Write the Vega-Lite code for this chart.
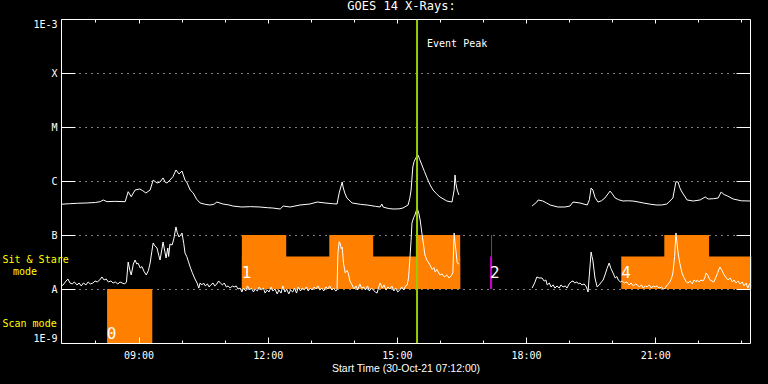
{
"$schema": "https://vega.github.io/schema/vega-lite/v6.json",
"width": 689, "height": 324,
"autosize": {"type": "none"},
"padding": {"left": 61, "top": 19, "right": 18, "bottom": 41},
"background": "black",
"title": {"text": "GOES 14 X-Rays:", "color": "white", "font": "DejaVu Sans Mono", "fontSize": 12, "fontWeight": "normal", "anchor": "middle", "frame": "group", "offset": 5, "dx": -4},
"config": {
 "view": {"stroke": null},
 "axis": {"labelColor": "white", "tickColor": "white", "domainColor": "white", "labelFont": "DejaVu Sans Mono", "labelFontSize": 10, "titleColor": "white", "labelOverlap": false, "tickWidth": 1, "domainWidth": 1, "gridColor": "white", "gridOpacity": 1, "gridDash": [1, 5], "grid": false, "labelFlush": false}
},
"datasets": {
 "blocks": [
  {"t0": 8.27, "t1": 9.32, "lo": 1e-9, "hi": 1e-8},
  {"t0": 11.40, "t1": 16.47, "lo": 1e-8, "hi": 4e-8},
  {"t0": 11.40, "t1": 12.43, "lo": 1e-8, "hi": 1e-7},
  {"t0": 13.43, "t1": 14.45, "lo": 1e-8, "hi": 1e-7},
  {"t0": 15.44, "t1": 16.47, "lo": 1e-8, "hi": 1e-7},
  {"t0": 20.21, "t1": 23.23, "lo": 1e-8, "hi": 4e-8},
  {"t0": 21.21, "t1": 22.25, "lo": 1e-8, "hi": 1e-7}
 ],
 "magenta": [{"t0": 17.163, "t1": 17.21, "tl": 17.198, "lo": 1e-8, "hi": 4e-8, "top": 1e-7}],
 "digits": [
  {"t": 8.26, "v": 1.19e-9, "label": "0"},
  {"t": 11.40, "v": 1.63e-8, "label": "1"},
  {"t": 17.16, "v": 1.63e-8, "label": "2"},
  {"t": 20.21, "v": 1.63e-8, "label": "4"}
 ],
 "event": [{"t": 15.468, "tl": 15.70, "v": 3.07e-4, "label": "Event Peak"}],
 "flux": [
  {"t":7.20,"v":3.71e-7,"s":"L1"},{"t":7.40,"v":3.80e-7,"s":"L1"},{"t":7.59,"v":3.87e-7,"s":"L1"},{"t":7.80,"v":3.92e-7,"s":"L1"},{"t":8.00,"v":4.0e-7,"s":"L1"},{"t":8.11,"v":4.14e-7,"s":"L1"},{"t":8.18,"v":4.45e-7,"s":"L1"},{"t":8.27,"v":4.14e-7,"s":"L1"},{"t":8.45,"v":4.2e-7,"s":"L1"},{"t":8.69,"v":4.14e-7,"s":"L1"},{"t":8.76,"v":6.34e-7,"s":"L1"},{"t":8.83,"v":5.12e-7,"s":"L1"},{"t":8.92,"v":6.81e-7,"s":"L1"},{"t":9.03,"v":7.11e-7,"s":"L1"},{"t":9.10,"v":6.6e-7,"s":"L1"},{"t":9.17,"v":6.0e-7,"s":"L1"},{"t":9.27,"v":6.81e-7,"s":"L1"},{"t":9.34,"v":1.04e-6,"s":"L1"},{"t":9.43,"v":9.18e-7,"s":"L1"},{"t":9.50,"v":9.58e-7,"s":"L1"},{"t":9.57,"v":1.14e-6,"s":"L1"},{"t":9.62,"v":9.5e-7,"s":"L1"},{"t":9.66,"v":9.18e-7,"s":"L1"},{"t":9.73,"v":1.04e-6,"s":"L1"},{"t":9.80,"v":1.2e-6,"s":"L1"},{"t":9.87,"v":1.60e-6,"s":"L1"},{"t":9.94,"v":1.35e-6,"s":"L1"},{"t":10.01,"v":1.53e-6,"s":"L1"},{"t":10.08,"v":1.04e-6,"s":"L1"},{"t":10.13,"v":9.18e-7,"s":"L1"},{"t":10.20,"v":6.81e-7,"s":"L1"},{"t":10.27,"v":6.0e-7,"s":"L1"},{"t":10.35,"v":4.6e-7,"s":"L1"},{"t":10.43,"v":3.92e-7,"s":"L1"},{"t":10.55,"v":3.7e-7,"s":"L1"},{"t":10.66,"v":3.59e-7,"s":"L1"},{"t":10.75,"v":3.7e-7,"s":"L1"},{"t":10.82,"v":4.08e-7,"s":"L1"},{"t":10.96,"v":3.75e-7,"s":"L1"},{"t":11.10,"v":3.6e-7,"s":"L1"},{"t":11.19,"v":3.44e-7,"s":"L1"},{"t":11.40,"v":3.30e-7,"s":"L1"},{"t":11.60,"v":3.35e-7,"s":"L1"},{"t":11.82,"v":3.30e-7,"s":"L1"},{"t":12.00,"v":3.2e-7,"s":"L1"},{"t":12.12,"v":3.16e-7,"s":"L1"},{"t":12.29,"v":3.03e-7,"s":"L1"},{"t":12.36,"v":3.44e-7,"s":"L1"},{"t":12.52,"v":3.30e-7,"s":"L1"},{"t":12.75,"v":3.59e-7,"s":"L1"},{"t":12.98,"v":3.75e-7,"s":"L1"},{"t":13.15,"v":4.08e-7,"s":"L1"},{"t":13.33,"v":3.92e-7,"s":"L1"},{"t":13.50,"v":3.8e-7,"s":"L1"},{"t":13.61,"v":3.75e-7,"s":"L1"},{"t":13.66,"v":6.0e-7,"s":"L1"},{"t":13.73,"v":9.58e-7,"s":"L1"},{"t":13.75,"v":7.74e-7,"s":"L1"},{"t":13.79,"v":6.0e-7,"s":"L1"},{"t":13.84,"v":4.84e-7,"s":"L1"},{"t":13.96,"v":3.92e-7,"s":"L1"},{"t":14.15,"v":3.7e-7,"s":"L1"},{"t":14.31,"v":3.59e-7,"s":"L1"},{"t":14.50,"v":3.4e-7,"s":"L1"},{"t":14.61,"v":3.30e-7,"s":"L1"},{"t":14.65,"v":3.75e-7,"s":"L1"},{"t":14.68,"v":3.30e-7,"s":"L1"},{"t":14.80,"v":3.1e-7,"s":"L1"},{"t":14.91,"v":3.03e-7,"s":"L1"},{"t":15.05,"v":3.05e-7,"s":"L1"},{"t":15.14,"v":3.16e-7,"s":"L1"},{"t":15.26,"v":3.59e-7,"s":"L1"},{"t":15.30,"v":4.8e-7,"s":"L1"},{"t":15.33,"v":6.81e-7,"s":"L1"},{"t":15.37,"v":1.82e-6,"s":"L1"},{"t":15.40,"v":2.3e-6,"s":"L1"},{"t":15.44,"v":2.67e-6,"s":"L1"},{"t":15.49,"v":3.03e-6,"s":"L1"},{"t":15.53,"v":2.5e-6,"s":"L1"},{"t":15.58,"v":1.98e-6,"s":"L1"},{"t":15.64,"v":1.5e-6,"s":"L1"},{"t":15.70,"v":1.14e-6,"s":"L1"},{"t":15.77,"v":8.5e-7,"s":"L1"},{"t":15.84,"v":6.81e-7,"s":"L1"},{"t":15.92,"v":5.8e-7,"s":"L1"},{"t":16.00,"v":5.06e-7,"s":"L1"},{"t":16.16,"v":4.26e-7,"s":"L1"},{"t":16.28,"v":4.08e-7,"s":"L1"},{"t":16.33,"v":6.81e-7,"s":"L1"},{"t":16.35,"v":1.29e-6,"s":"L1"},{"t":16.37,"v":9.0e-7,"s":"L1"},{"t":16.40,"v":6.81e-7,"s":"L1"},{"t":16.44,"v":5.51e-7,"s":"L1"},
  {"t":18.14,"v":3.44e-7,"s":"L2"},{"t":18.25,"v":4.08e-7,"s":"L2"},{"t":18.28,"v":4.45e-7,"s":"L2"},{"t":18.39,"v":4.26e-7,"s":"L2"},{"t":18.48,"v":3.9e-7,"s":"L2"},{"t":18.56,"v":3.59e-7,"s":"L2"},{"t":18.74,"v":3.30e-7,"s":"L2"},{"t":18.90,"v":3.3e-7,"s":"L2"},{"t":19.02,"v":3.44e-7,"s":"L2"},{"t":19.09,"v":4.08e-7,"s":"L2"},{"t":19.25,"v":3.92e-7,"s":"L2"},{"t":19.42,"v":3.59e-7,"s":"L2"},{"t":19.47,"v":4.5e-7,"s":"L2"},{"t":19.51,"v":7.41e-7,"s":"L2"},{"t":19.55,"v":6.81e-7,"s":"L2"},{"t":19.60,"v":5.0e-7,"s":"L2"},{"t":19.67,"v":4.08e-7,"s":"L2"},{"t":19.75,"v":4.3e-7,"s":"L2"},{"t":19.83,"v":4.84e-7,"s":"L2"},{"t":19.95,"v":6.5e-7,"s":"L2"},{"t":20.00,"v":5.8e-7,"s":"L2"},{"t":20.07,"v":4.84e-7,"s":"L2"},{"t":20.15,"v":4.5e-7,"s":"L2"},{"t":20.25,"v":4.26e-7,"s":"L2"},{"t":20.35,"v":4.3e-7,"s":"L2"},{"t":20.48,"v":4.26e-7,"s":"L2"},{"t":20.60,"v":4.1e-7,"s":"L2"},{"t":20.72,"v":3.92e-7,"s":"L2"},{"t":20.90,"v":3.7e-7,"s":"L2"},{"t":21.04,"v":3.59e-7,"s":"L2"},{"t":21.15,"v":3.6e-7,"s":"L2"},{"t":21.27,"v":3.75e-7,"s":"L2"},{"t":21.41,"v":4.84e-7,"s":"L2"},{"t":21.46,"v":8.0e-7,"s":"L2"},{"t":21.48,"v":9.7e-7,"s":"L2"},{"t":21.53,"v":9.58e-7,"s":"L2"},{"t":21.57,"v":7.5e-7,"s":"L2"},{"t":21.62,"v":6.25e-7,"s":"L2"},{"t":21.74,"v":4.45e-7,"s":"L2"},{"t":21.88,"v":4.26e-7,"s":"L2"},{"t":22.04,"v":4.45e-7,"s":"L2"},{"t":22.16,"v":5.06e-7,"s":"L2"},{"t":22.23,"v":4.64e-7,"s":"L2"},{"t":22.35,"v":4.7e-7,"s":"L2"},{"t":22.46,"v":4.84e-7,"s":"L2"},{"t":22.53,"v":6.25e-7,"s":"L2"},{"t":22.60,"v":5.6e-7,"s":"L2"},{"t":22.67,"v":5.3e-7,"s":"L2"},{"t":22.81,"v":4.64e-7,"s":"L2"},{"t":23.00,"v":4.3e-7,"s":"L2"},{"t":23.20,"v":4.26e-7,"s":"L2"},
  {"t":7.20,"v":1.14e-8,"s":"S1"},{"t":7.25,"v":1.19e-8,"s":"S1"},{"t":7.30,"v":1.35e-8,"s":"S1"},{"t":7.36,"v":1.53e-8,"s":"S1"},{"t":7.41,"v":1.29e-8,"s":"S1"},{"t":7.46,"v":1.24e-8,"s":"S1"},{"t":7.51,"v":1.35e-8,"s":"S1"},{"t":7.57,"v":1.19e-8,"s":"S1"},{"t":7.62,"v":1.29e-8,"s":"S1"},{"t":7.67,"v":1.14e-8,"s":"S1"},{"t":7.72,"v":1.29e-8,"s":"S1"},{"t":7.78,"v":1.19e-8,"s":"S1"},{"t":7.83,"v":1.35e-8,"s":"S1"},{"t":7.88,"v":1.24e-8,"s":"S1"},{"t":7.94,"v":1.29e-8,"s":"S1"},{"t":7.99,"v":1.41e-8,"s":"S1"},{"t":8.04,"v":1.35e-8,"s":"S1"},{"t":8.10,"v":1.47e-8,"s":"S1"},{"t":8.15,"v":1.67e-8,"s":"S1"},{"t":8.20,"v":1.47e-8,"s":"S1"},{"t":8.25,"v":1.53e-8,"s":"S1"},{"t":8.30,"v":1.35e-8,"s":"S1"},{"t":8.36,"v":1.41e-8,"s":"S1"},{"t":8.41,"v":1.29e-8,"s":"S1"},{"t":8.46,"v":1.35e-8,"s":"S1"},{"t":8.52,"v":1.24e-8,"s":"S1"},{"t":8.57,"v":1.35e-8,"s":"S1"},{"t":8.62,"v":1.29e-8,"s":"S1"},{"t":8.68,"v":1.24e-8,"s":"S1"},{"t":8.72,"v":1.35e-8,"s":"S1"},{"t":8.76,"v":3.16e-8,"s":"S1"},{"t":8.80,"v":2.2e-8,"s":"S1"},{"t":8.83,"v":1.82e-8,"s":"S1"},{"t":8.88,"v":2.9e-8,"s":"S1"},{"t":8.92,"v":3.44e-8,"s":"S1"},{"t":8.96,"v":2.9e-8,"s":"S1"},{"t":8.99,"v":3.0e-8,"s":"S1"},{"t":9.04,"v":2.45e-8,"s":"S1"},{"t":9.08,"v":2.6e-8,"s":"S1"},{"t":9.13,"v":2.1e-8,"s":"S1"},{"t":9.18,"v":1.82e-8,"s":"S1"},{"t":9.23,"v":2.2e-8,"s":"S1"},{"t":9.27,"v":3.03e-8,"s":"S1"},{"t":9.31,"v":5.0e-8,"s":"S1"},{"t":9.34,"v":7.11e-8,"s":"S1"},{"t":9.38,"v":6.3e-8,"s":"S1"},{"t":9.43,"v":5.75e-8,"s":"S1"},{"t":9.47,"v":4.2e-8,"s":"S1"},{"t":9.50,"v":3.44e-8,"s":"S1"},{"t":9.54,"v":5.3e-8,"s":"S1"},{"t":9.57,"v":7.41e-8,"s":"S1"},{"t":9.61,"v":5.0e-8,"s":"S1"},{"t":9.64,"v":3.75e-8,"s":"S1"},{"t":9.68,"v":5.75e-8,"s":"S1"},{"t":9.70,"v":4.0e-8,"s":"S1"},{"t":9.73,"v":6.8e-8,"s":"S1"},{"t":9.78,"v":6.53e-8,"s":"S1"},{"t":9.82,"v":8.5e-8,"s":"S1"},{"t":9.87,"v":1.41e-7,"s":"S1"},{"t":9.90,"v":1.1e-7,"s":"S1"},{"t":9.94,"v":9.18e-8,"s":"S1"},{"t":9.98,"v":1.0e-7,"s":"S1"},{"t":10.01,"v":1.09e-7,"s":"S1"},{"t":10.05,"v":7.0e-8,"s":"S1"},{"t":10.08,"v":4.64e-8,"s":"S1"},{"t":10.12,"v":4.0e-8,"s":"S1"},{"t":10.16,"v":3.2e-8,"s":"S1"},{"t":10.20,"v":2.55e-8,"s":"S1"},{"t":10.25,"v":2.0e-8,"s":"S1"},{"t":10.30,"v":1.6e-8,"s":"S1"},{"t":10.36,"v":1.29e-8,"s":"S1"},{"t":10.40,"v":1.04e-8,"s":"S1"},{"t":10.43,"v":1.29e-8,"s":"S1"},{"t":10.47,"v":1.19e-8,"s":"S1"},{"t":10.51,"v":1.29e-8,"s":"S1"},{"t":10.55,"v":1.14e-8,"s":"S1"},{"t":10.60,"v":1.24e-8,"s":"S1"},{"t":10.64,"v":1.09e-8,"s":"S1"},{"t":10.68,"v":1.19e-8,"s":"S1"},{"t":10.73,"v":1.29e-8,"s":"S1"},{"t":10.77,"v":1.14e-8,"s":"S1"},{"t":10.82,"v":1.24e-8,"s":"S1"},{"t":10.86,"v":1.41e-8,"s":"S1"},{"t":10.90,"v":1.29e-8,"s":"S1"},{"t":10.95,"v":1.19e-8,"s":"S1"},{"t":10.99,"v":1.29e-8,"s":"S1"},{"t":11.04,"v":1.09e-8,"s":"S1"},{"t":11.08,"v":1.14e-8,"s":"S1"},{"t":11.13,"v":1.04e-8,"s":"S1"},{"t":11.18,"v":1.14e-8,"s":"S1"},{"t":11.22,"v":1.09e-8,"s":"S1"},{"t":11.27,"v":1.14e-8,"s":"S1"},{"t":11.31,"v":1.0e-8,"s":"S1"},{"t":11.36,"v":1.04e-8,"s":"S1"},{"t":11.40,"v":8.8e-9,"s":"S1"},{"t":11.44,"v":1.04e-8,"s":"S1"},{"t":11.49,"v":9.2e-9,"s":"S1"},{"t":11.53,"v":1.14e-8,"s":"S1"},{"t":11.58,"v":9.6e-9,"s":"S1"},{"t":11.62,"v":1.04e-8,"s":"S1"},{"t":11.67,"v":8.8e-9,"s":"S1"},{"t":11.71,"v":1.0e-8,"s":"S1"},{"t":11.76,"v":9.2e-9,"s":"S1"},{"t":11.80,"v":1.09e-8,"s":"S1"},{"t":11.85,"v":9.6e-9,"s":"S1"},{"t":11.90,"v":1.04e-8,"s":"S1"},{"t":11.94,"v":8.4e-9,"s":"S1"},{"t":11.99,"v":9.6e-9,"s":"S1"},{"t":12.03,"v":8.8e-9,"s":"S1"},{"t":12.08,"v":1.09e-8,"s":"S1"},{"t":12.12,"v":9.2e-9,"s":"S1"},{"t":12.17,"v":1.0e-8,"s":"S1"},{"t":12.22,"v":8.1e-9,"s":"S1"},{"t":12.26,"v":9.6e-9,"s":"S1"},{"t":12.31,"v":8.4e-9,"s":"S1"},{"t":12.35,"v":1.14e-8,"s":"S1"},{"t":12.40,"v":8.8e-9,"s":"S1"},{"t":12.44,"v":1.0e-8,"s":"S1"},{"t":12.49,"v":8.1e-9,"s":"S1"},{"t":12.53,"v":9.6e-9,"s":"S1"},{"t":12.58,"v":8.8e-9,"s":"S1"},{"t":12.62,"v":1.04e-8,"s":"S1"},{"t":12.67,"v":8.4e-9,"s":"S1"},{"t":12.71,"v":1.09e-8,"s":"S1"},{"t":12.76,"v":9.2e-9,"s":"S1"},{"t":12.80,"v":1.04e-8,"s":"S1"},{"t":12.85,"v":9.6e-9,"s":"S1"},{"t":12.90,"v":1.09e-8,"s":"S1"},{"t":12.94,"v":9.2e-9,"s":"S1"},{"t":12.99,"v":1.04e-8,"s":"S1"},{"t":13.03,"v":9.6e-9,"s":"S1"},{"t":13.08,"v":1.09e-8,"s":"S1"},{"t":13.12,"v":1.0e-8,"s":"S1"},{"t":13.17,"v":1.14e-8,"s":"S1"},{"t":13.21,"v":9.6e-9,"s":"S1"},{"t":13.26,"v":1.04e-8,"s":"S1"},{"t":13.30,"v":9.2e-9,"s":"S1"},{"t":13.35,"v":1.09e-8,"s":"S1"},{"t":13.40,"v":1.0e-8,"s":"S1"},{"t":13.44,"v":1.14e-8,"s":"S1"},{"t":13.49,"v":9.6e-9,"s":"S1"},{"t":13.53,"v":1.04e-8,"s":"S1"},{"t":13.58,"v":9.2e-9,"s":"S1"},{"t":13.61,"v":9.6e-9,"s":"S1"},{"t":13.63,"v":4.64e-8,"s":"S1"},{"t":13.66,"v":7.5e-8,"s":"S1"},{"t":13.68,"v":7.11e-8,"s":"S1"},{"t":13.71,"v":5.5e-8,"s":"S1"},{"t":13.73,"v":6.0e-8,"s":"S1"},{"t":13.76,"v":3.0e-8,"s":"S1"},{"t":13.80,"v":1.98e-8,"s":"S1"},{"t":13.84,"v":2.2e-8,"s":"S1"},{"t":13.87,"v":1.98e-8,"s":"S1"},{"t":13.91,"v":1.4e-8,"s":"S1"},{"t":13.96,"v":1.19e-8,"s":"S1"},{"t":14.00,"v":1.0e-8,"s":"S1"},{"t":14.05,"v":1.14e-8,"s":"S1"},{"t":14.09,"v":9.6e-9,"s":"S1"},{"t":14.14,"v":1.24e-8,"s":"S1"},{"t":14.18,"v":1.04e-8,"s":"S1"},{"t":14.23,"v":1.09e-8,"s":"S1"},{"t":14.27,"v":9.6e-9,"s":"S1"},{"t":14.32,"v":1.14e-8,"s":"S1"},{"t":14.36,"v":9.2e-9,"s":"S1"},{"t":14.41,"v":1.04e-8,"s":"S1"},{"t":14.45,"v":9.6e-9,"s":"S1"},{"t":14.50,"v":8.8e-9,"s":"S1"},{"t":14.54,"v":8.4e-9,"s":"S1"},{"t":14.58,"v":1.09e-8,"s":"S1"},{"t":14.61,"v":1.29e-8,"s":"S1"},{"t":14.66,"v":1.04e-8,"s":"S1"},{"t":14.70,"v":1.19e-8,"s":"S1"},{"t":14.75,"v":9.6e-9,"s":"S1"},{"t":14.79,"v":1.09e-8,"s":"S1"},{"t":14.84,"v":1.0e-8,"s":"S1"},{"t":14.88,"v":1.14e-8,"s":"S1"},{"t":14.93,"v":9.2e-9,"s":"S1"},{"t":14.97,"v":1.04e-8,"s":"S1"},{"t":15.02,"v":8.8e-9,"s":"S1"},{"t":15.07,"v":9.6e-9,"s":"S1"},{"t":15.11,"v":1.09e-8,"s":"S1"},{"t":15.16,"v":9.6e-9,"s":"S1"},{"t":15.20,"v":1.14e-8,"s":"S1"},{"t":15.24,"v":1.19e-8,"s":"S1"},{"t":15.27,"v":1.6e-8,"s":"S1"},{"t":15.30,"v":3.44e-8,"s":"S1"},{"t":15.33,"v":8.0e-8,"s":"S1"},{"t":15.35,"v":1.67e-7,"s":"S1"},{"t":15.39,"v":2.1e-7,"s":"S1"},{"t":15.42,"v":2.35e-7,"s":"S1"},{"t":15.47,"v":3.16e-7,"s":"S1"},{"t":15.51,"v":2.5e-7,"s":"S1"},{"t":15.54,"v":1.90e-7,"s":"S1"},{"t":15.58,"v":1.09e-7,"s":"S1"},{"t":15.62,"v":6.5e-8,"s":"S1"},{"t":15.65,"v":4.26e-8,"s":"S1"},{"t":15.70,"v":3.4e-8,"s":"S1"},{"t":15.77,"v":2.78e-8,"s":"S1"},{"t":15.82,"v":2.3e-8,"s":"S1"},{"t":15.86,"v":2.5e-8,"s":"S1"},{"t":15.89,"v":2.06e-8,"s":"S1"},{"t":15.93,"v":2.3e-8,"s":"S1"},{"t":16.00,"v":1.82e-8,"s":"S1"},{"t":16.05,"v":1.9e-8,"s":"S1"},{"t":16.10,"v":1.67e-8,"s":"S1"},{"t":16.16,"v":1.82e-8,"s":"S1"},{"t":16.21,"v":1.6e-8,"s":"S1"},{"t":16.26,"v":1.74e-8,"s":"S1"},{"t":16.30,"v":2.0e-8,"s":"S1"},{"t":16.33,"v":1.09e-7,"s":"S1"},{"t":16.35,"v":7.0e-8,"s":"S1"},{"t":16.37,"v":5.28e-8,"s":"S1"},{"t":16.40,"v":3.03e-8,"s":"S1"},{"t":16.44,"v":2.90e-8,"s":"S1"},
  {"t":18.14,"v":1.04e-8,"s":"S2"},{"t":18.20,"v":1.3e-8,"s":"S2"},{"t":18.25,"v":1.67e-8,"s":"S2"},{"t":18.30,"v":1.6e-8,"s":"S2"},{"t":18.37,"v":1.60e-8,"s":"S2"},{"t":18.42,"v":1.4e-8,"s":"S2"},{"t":18.46,"v":1.47e-8,"s":"S2"},{"t":18.49,"v":1.19e-8,"s":"S2"},{"t":18.54,"v":1.29e-8,"s":"S2"},{"t":18.58,"v":1.09e-8,"s":"S2"},{"t":18.63,"v":1.19e-8,"s":"S2"},{"t":18.67,"v":1.04e-8,"s":"S2"},{"t":18.72,"v":1.14e-8,"s":"S2"},{"t":18.77,"v":1.04e-8,"s":"S2"},{"t":18.81,"v":1.19e-8,"s":"S2"},{"t":18.86,"v":1.09e-8,"s":"S2"},{"t":18.91,"v":1.14e-8,"s":"S2"},{"t":18.95,"v":1.04e-8,"s":"S2"},{"t":19.00,"v":1.24e-8,"s":"S2"},{"t":19.04,"v":1.35e-8,"s":"S2"},{"t":19.09,"v":1.41e-8,"s":"S2"},{"t":19.13,"v":1.29e-8,"s":"S2"},{"t":19.18,"v":1.35e-8,"s":"S2"},{"t":19.22,"v":1.24e-8,"s":"S2"},{"t":19.25,"v":1.29e-8,"s":"S2"},{"t":19.30,"v":1.19e-8,"s":"S2"},{"t":19.35,"v":1.24e-8,"s":"S2"},{"t":19.40,"v":1.09e-8,"s":"S2"},{"t":19.44,"v":8.8e-9,"s":"S2"},{"t":19.46,"v":1.47e-8,"s":"S2"},{"t":19.49,"v":3.0e-8,"s":"S2"},{"t":19.51,"v":4.84e-8,"s":"S2"},{"t":19.53,"v":4.0e-8,"s":"S2"},{"t":19.55,"v":3.44e-8,"s":"S2"},{"t":19.60,"v":1.6e-8,"s":"S2"},{"t":19.65,"v":1.09e-8,"s":"S2"},{"t":19.70,"v":1.19e-8,"s":"S2"},{"t":19.75,"v":1.35e-8,"s":"S2"},{"t":19.79,"v":1.47e-8,"s":"S2"},{"t":19.84,"v":1.9e-8,"s":"S2"},{"t":19.88,"v":2.4e-8,"s":"S2"},{"t":19.93,"v":3.03e-8,"s":"S2"},{"t":19.97,"v":2.4e-8,"s":"S2"},{"t":20.02,"v":1.98e-8,"s":"S2"},{"t":20.07,"v":1.6e-8,"s":"S2"},{"t":20.11,"v":1.7e-8,"s":"S2"},{"t":20.14,"v":1.47e-8,"s":"S2"},{"t":20.19,"v":1.35e-8,"s":"S2"},{"t":20.23,"v":1.41e-8,"s":"S2"},{"t":20.28,"v":1.29e-8,"s":"S2"},{"t":20.34,"v":1.35e-8,"s":"S2"},{"t":20.39,"v":1.19e-8,"s":"S2"},{"t":20.44,"v":1.29e-8,"s":"S2"},{"t":20.49,"v":1.14e-8,"s":"S2"},{"t":20.54,"v":1.24e-8,"s":"S2"},{"t":20.58,"v":1.19e-8,"s":"S2"},{"t":20.63,"v":1.09e-8,"s":"S2"},{"t":20.68,"v":1.19e-8,"s":"S2"},{"t":20.72,"v":1.04e-8,"s":"S2"},{"t":20.77,"v":1.14e-8,"s":"S2"},{"t":20.81,"v":1.09e-8,"s":"S2"},{"t":20.86,"v":1.19e-8,"s":"S2"},{"t":20.91,"v":1.04e-8,"s":"S2"},{"t":20.95,"v":1.14e-8,"s":"S2"},{"t":21.00,"v":1.09e-8,"s":"S2"},{"t":21.04,"v":1.14e-8,"s":"S2"},{"t":21.09,"v":1.04e-8,"s":"S2"},{"t":21.14,"v":1.09e-8,"s":"S2"},{"t":21.19,"v":1.0e-8,"s":"S2"},{"t":21.23,"v":1.04e-8,"s":"S2"},{"t":21.28,"v":1.19e-8,"s":"S2"},{"t":21.34,"v":1.35e-8,"s":"S2"},{"t":21.38,"v":1.6e-8,"s":"S2"},{"t":21.41,"v":1.98e-8,"s":"S2"},{"t":21.45,"v":4.0e-8,"s":"S2"},{"t":21.48,"v":1.09e-7,"s":"S2"},{"t":21.51,"v":6.5e-8,"s":"S2"},{"t":21.53,"v":4.64e-8,"s":"S2"},{"t":21.57,"v":3.0e-8,"s":"S2"},{"t":21.62,"v":1.98e-8,"s":"S2"},{"t":21.67,"v":1.6e-8,"s":"S2"},{"t":21.72,"v":1.35e-8,"s":"S2"},{"t":21.76,"v":1.29e-8,"s":"S2"},{"t":21.81,"v":1.4e-8,"s":"S2"},{"t":21.86,"v":1.24e-8,"s":"S2"},{"t":21.90,"v":1.47e-8,"s":"S2"},{"t":21.95,"v":1.35e-8,"s":"S2"},{"t":21.97,"v":1.47e-8,"s":"S2"},{"t":22.02,"v":1.35e-8,"s":"S2"},{"t":22.06,"v":1.47e-8,"s":"S2"},{"t":22.11,"v":1.41e-8,"s":"S2"},{"t":22.15,"v":1.6e-8,"s":"S2"},{"t":22.18,"v":1.98e-8,"s":"S2"},{"t":22.22,"v":1.8e-8,"s":"S2"},{"t":22.27,"v":1.47e-8,"s":"S2"},{"t":22.31,"v":1.41e-8,"s":"S2"},{"t":22.36,"v":1.35e-8,"s":"S2"},{"t":22.40,"v":1.6e-8,"s":"S2"},{"t":22.45,"v":2.0e-8,"s":"S2"},{"t":22.50,"v":2.55e-8,"s":"S2"},{"t":22.55,"v":2.2e-8,"s":"S2"},{"t":22.60,"v":1.82e-8,"s":"S2"},{"t":22.65,"v":1.6e-8,"s":"S2"},{"t":22.69,"v":1.47e-8,"s":"S2"},{"t":22.74,"v":1.6e-8,"s":"S2"},{"t":22.79,"v":1.35e-8,"s":"S2"},{"t":22.83,"v":1.47e-8,"s":"S2"},{"t":22.88,"v":1.29e-8,"s":"S2"},{"t":22.92,"v":1.41e-8,"s":"S2"},{"t":22.97,"v":1.24e-8,"s":"S2"},{"t":23.02,"v":1.35e-8,"s":"S2"},{"t":23.06,"v":1.14e-8,"s":"S2"},{"t":23.11,"v":1.29e-8,"s":"S2"},{"t":23.15,"v":1.04e-8,"s":"S2"},{"t":23.20,"v":1.29e-8,"s":"S2"}
 ]
},
"layer": [
 {
  "data": {"name": "blocks"},
  "mark": {"type": "rect", "color": "#ff8000"},
  "encoding": {
   "x": {"field": "t0", "type": "quantitative", "scale": {"domain": [7.2, 23.2], "nice": false, "zero": false},
    "axis": {"orient": "bottom", "values": [9, 12, 15, 18, 21], "tickSize": -6, "labelPadding": 13, "labelExpr": "(datum.value < 10 ? '0' : '') + datum.value + ':00'", "title": "Start Time (30-Oct-21 07:12:00)", "titleFont": "Liberation Sans", "titleFontSize": 10.5, "titleFontWeight": "normal", "titlePadding": 3, "domain": true, "zindex": 1}},
   "x2": {"field": "t1"},
   "y": {"field": "lo", "type": "quantitative", "scale": {"type": "log", "domain": [1e-9, 1e-3], "nice": false},
    "axis": {"orient": "left", "values": [1e-9, 1e-8, 1e-7, 1e-6, 1e-5, 1e-4, 1e-3], "tickSize": -14, "labelPadding": 18, "labelFlush": true, "labelExpr": "round(log(datum.value)/LN10) == -8 ? 'A' : round(log(datum.value)/LN10) == -7 ? 'B' : round(log(datum.value)/LN10) == -6 ? 'C' : round(log(datum.value)/LN10) == -5 ? 'M' : round(log(datum.value)/LN10) == -4 ? 'X' : round(log(datum.value)/LN10) == -3 ? '1E-3' : '1E-9'", "title": null, "domain": true, "zindex": 1}},
   "y2": {"field": "hi"}
  }
 },
 {
  "data": {"name": "magenta"},
  "mark": {"type": "rect", "color": "#cc00cc"},
  "encoding": {
   "x": {"field": "t0", "type": "quantitative", "scale": {"domain": [7.2, 23.2], "nice": false, "zero": false},
    "axis": {"orient": "bottom", "values": [8, 9, 10, 11, 12, 13, 14, 15, 16, 17, 18, 19, 20, 21, 22, 23], "tickSize": -3, "labels": false, "domain": false, "title": null, "zindex": 1}},
   "x2": {"field": "t1"},
   "y": {"field": "lo", "type": "quantitative", "scale": {"type": "log", "domain": [1e-9, 1e-3], "nice": false},
    "axis": {"orient": "left", "values": [1e-8, 1e-7, 1e-6, 1e-5, 1e-4], "grid": true, "ticks": false, "labels": false, "domain": false, "title": null}},
   "y2": {"field": "hi"}
  }
 },
 {
  "data": {"name": "magenta"},
  "mark": {"type": "rule", "color": "#cc00cc", "strokeWidth": 1},
  "encoding": {
   "x": {"field": "tl", "type": "quantitative", "scale": {"domain": [7.2, 23.2], "nice": false, "zero": false},
    "axis": {"orient": "top", "values": [8, 9, 10, 11, 12, 13, 14, 15, 16, 17, 18, 19, 20, 21, 22, 23], "tickSize": -3, "labels": false, "domain": true, "title": null, "zindex": 1}},
   "y": {"field": "lo", "type": "quantitative", "scale": {"type": "log", "domain": [1e-9, 1e-3], "nice": false},
    "axis": {"orient": "right", "values": [1e-8, 1e-7, 1e-6, 1e-5, 1e-4], "tickSize": -14, "labels": false, "domain": true, "title": null, "zindex": 1}},
   "y2": {"field": "top"}
  }
 },
 {
  "data": {"name": "flux"},
  "mark": {"type": "line", "color": "white", "strokeWidth": 1},
  "encoding": {
   "x": {"field": "t", "type": "quantitative", "scale": {"domain": [7.2, 23.2], "nice": false, "zero": false},
    "axis": {"orient": "top", "values": [9, 12, 15, 18, 21], "tickSize": -4, "labels": false, "domain": false, "title": null, "zindex": 1}},
   "y": {"field": "v", "type": "quantitative", "scale": {"type": "log", "domain": [1e-9, 1e-3], "nice": false},
    "axis": {"orient": "left", "values": [3.59e-8, 2.25e-9], "labelExpr": "datum.value > 1e-8 ? 'Sit & Stare' : 'Scan mode'", "labelColor": "#ffff00", "labelAlign": "left", "labelPadding": 59, "ticks": false, "domain": false, "title": null}},
   "detail": {"field": "s"}
  }
 },
 {
  "data": {"name": "digits"},
  "mark": {"type": "text", "color": "white", "font": "DejaVu Sans Mono", "fontSize": 16, "align": "left", "baseline": "alphabetic"},
  "encoding": {
   "x": {"field": "t", "type": "quantitative", "scale": {"domain": [7.2, 23.2], "nice": false, "zero": false}, "axis": null},
   "y": {"field": "v", "type": "quantitative", "scale": {"type": "log", "domain": [1e-9, 1e-3], "nice": false},
    "axis": {"orient": "left", "values": [2.15e-8], "labelExpr": "'mode'", "labelColor": "#ffff00", "labelAlign": "center", "labelPadding": 36.5, "ticks": false, "domain": false, "title": null}},
   "text": {"field": "label"}
  }
 },
 {
  "data": {"name": "event"},
  "mark": {"type": "rule", "color": "#99cc00", "strokeWidth": 2},
  "encoding": {
   "x": {"field": "t", "type": "quantitative", "scale": {"domain": [7.2, 23.2], "nice": false, "zero": false}, "axis": null}
  }
 },
 {
  "data": {"name": "event"},
  "mark": {"type": "text", "color": "white", "font": "DejaVu Sans Mono", "fontSize": 10, "align": "left", "baseline": "alphabetic"},
  "encoding": {
   "x": {"field": "tl", "type": "quantitative", "scale": {"domain": [7.2, 23.2], "nice": false, "zero": false}, "axis": null},
   "y": {"field": "v", "type": "quantitative", "scale": {"type": "log", "domain": [1e-9, 1e-3], "nice": false}, "axis": null},
   "text": {"field": "label"}
  }
 }
],
"resolve": {"axis": {"x": "independent", "y": "independent"}}
}
